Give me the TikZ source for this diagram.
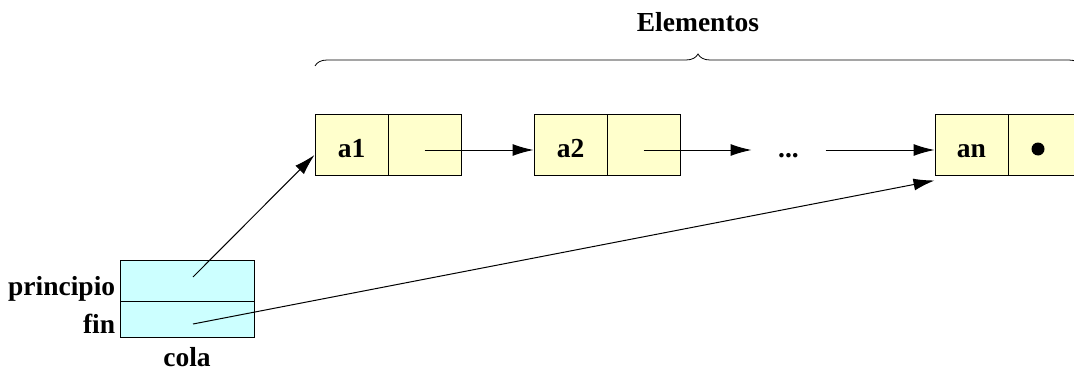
\documentclass[tikz,border=0pt]{standalone}
\usepackage{fontspec}
\setmainfont{Liberation Serif}
\usetikzlibrary{arrows.meta,decorations.pathreplacing}
\definecolor{amarillo}{HTML}{FFFFCC}
\definecolor{celeste}{HTML}{CCFFFF}
\tikzset{
    celda/.style={draw, fill=amarillo, minimum width=73pt, minimum height=61pt, inner sep=0pt,
        text height=25pt, text depth=0pt},
    campo/.style={draw, fill=celeste, minimum width=134pt, inner sep=0pt}
}

\begin{document}
\begin{tikzpicture}[x=1pt,y=-1pt,line width=1pt,>={Latex[length=21pt,width=12pt]},
            font=\fontsize{27.5}{32}\selectfont\bfseries]
            \useasboundingbox (0,0) rectangle (1074,372);
            % nodos de la lista
            \node[celda] (a1) at (351.5,144.5) {a1};
            \node[celda] (a1p) at (424.5,144.5) {};
            \node[celda] (a2) at (570.5,144.5) {a2};
            \node[celda] (a2p) at (643.5,144.5) {};
            \node[celda, draw=none, fill=none] (dots) at (788.5,144.5) {...};
            \node[celda] (an) at (971.5,144.5) {an};
            \node[celda] (anp) at (1044.5,144.5) {};
            \node[circle, fill, inner sep=0pt, minimum size=13pt] (nulo) at (1038,149) {};
            % cola
            \node[campo, minimum height=41pt] (prin) at (187,280.5) {};
            \node[campo, minimum height=36pt] (fin) at (187,319) {};
            \node[anchor=base east] (lprin) at (119,295) {principio};
            \node[anchor=base east] (lfin) at (119,333) {fin};
            \node[anchor=base] (lcola) at (187,366) {cola};
            % llave
            \draw[line width=0.8pt, decorate, decoration={brace, amplitude=12pt}] (315,66) -- (1081,66);
            \node[anchor=base] (elem) at (698,31) {Elementos};
            % punteros
            \draw[->] ([yshift=-5.5pt]a1p.center) -- ([yshift=-5.5pt]a2.west);
            \draw[->] ([yshift=-5.5pt]a2p.center) -- ([yshift=-5.5pt]dots.west);
            \draw[->] ([yshift=-5.5pt]dots.east) -- ([yshift=-5.5pt]an.west);
            \draw[->] ([shift={(6pt,3.5pt)}]prin.center) -- ([yshift=-10.5pt]a1.west);
            \draw[->] ([shift={(6pt,-5pt)}]fin.center) -- ([yshift=-5pt]an.south west);
        \end{tikzpicture}
\end{document}
